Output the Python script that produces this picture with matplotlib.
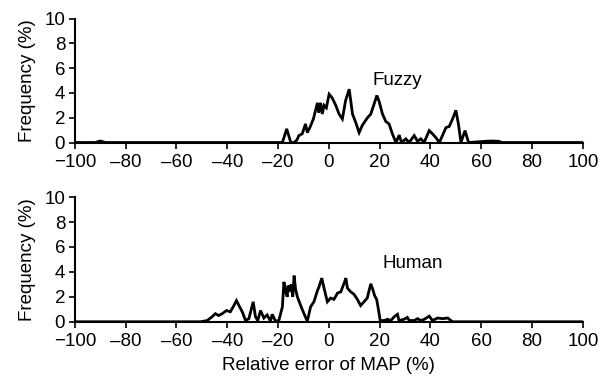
import numpy as np
import matplotlib
matplotlib.use("Agg")
import matplotlib.pyplot as plt

plt.rcParams['font.family'] = ['Liberation Sans', 'DejaVu Sans']

# Relative error (%) vs frequency (%)
fuzzy_x = [-100, -92, -90, -88, -18.3, -16.6, -15, -13.7, -12.6, -11.8, -10.5, -9.2, -8.5, -7.5,
           -6.1, -4.5, -4.0, -3.3, -2.6, -1.9, -1.0, 0.1, 1.3, 2.7, 4.0, 5.3, 6.6, 8.0,
           9.3, 10.6, 11.9, 13.2, 15.2, 16.5, 17.8, 18.9, 19.8, 21.1, 22.4, 23.7, 25.0,
           26.4, 27.7, 28.6, 30.3, 31.6, 33.6, 34.9, 36.2, 37.5, 39.5, 40.8, 42.1, 43.5,
           44.8, 46.1, 47.4, 48.7, 50.0, 51.0, 52.0, 53.6, 55.0, 62, 64, 67, 68, 100]
fuzzy_y = [0, 0, 0.12, 0, 0, 1.1, 0, 0, 0.2, 0.56, 0.7, 1.5, 0.8, 1.2,
           1.9, 3.2, 2.4, 3.2, 2.3, 3.0, 2.8, 3.9, 3.6, 3.0, 2.3, 1.9, 3.4, 4.3,
           2.3, 1.6, 0.8, 1.4, 2.0, 2.3, 3.1, 3.8, 3.3, 2.3, 1.7, 1.5, 0.7,
           0, 0.6, 0, 0.3, 0, 0.56, 0.1, 0.3, 0, 0.96, 0.7, 0.4, 0,
           0.6, 1.2, 1.3, 1.9, 2.6, 1.5, 0, 0.96, 0, 0.1, 0.12, 0.1, 0, 0]

human_x = [-100, -50.6, -47.9, -46.0, -44.7, -43.4, -42.0, -40.3, -38.8, -37.4, -36.4,
           -35.4, -34.1, -32.8, -31.5, -29.8, -28.9, -28.0, -26.9, -25.6, -24.3, -23.0,
           -22.3, -21.0, -19.7, -18.3, -17.7, -17.0, -16.4, -16.1, -15.4, -14.8, -14.2,
           -13.7, -13.1, -12.4, -11.1, -9.8, -8.5, -7.2, -5.9, -4.5, -3.9, -2.8, -1.9,
           -0.6, 0.7, 2.0, 3.4, 4.7, 6.0, 6.7, 7.3, 8.6, 9.9, 11.2, 12.5, 13.8, 15.1,
           16.5, 17.2, 18.0, 18.8, 19.5, 20.2, 21.8, 23.1, 24.4, 25.7, 27.0, 27.6, 29.6,
           30.9, 31.6, 33.6, 34.9, 36.2, 37.6, 39.5, 40.8, 42.8, 44.8, 46.8, 48.7, 100]
human_y = [0, 0, 0.1, 0.4, 0.65, 0.5, 0.65, 0.9, 0.8, 1.3, 1.7,
           1.3, 0.8, 0.1, 0.25, 1.6, 0.4, 0.1, 0.9, 0.3, 0.55, 0.05,
           0.6, 0.05, 0.1, 1.2, 3.2, 2.4, 2.0, 2.9, 2.6, 3.0, 2.0,
           3.7, 2.6, 2.0, 1.3, 0.65, 0.05, 1.2, 1.6, 2.5, 2.8, 3.5, 2.7,
           1.6, 1.9, 1.8, 2.3, 2.4, 3.1, 3.5, 2.7, 2.4, 2.2, 1.8, 1.3, 1.6, 1.9,
           3.05, 2.65, 2.1, 1.8, 1.0, 0.1, 0.1, 0.2, 0.1, 0.4, 0.6, 0.1, 0.2,
           0.35, 0.1, 0.1, 0.25, 0.1, 0.2, 0.45, 0.1, 0.3, 0.25, 0.3, 0, 0]

panels = [(fuzzy_x, fuzzy_y, "Fuzzy", (27, 5.0)),
          (human_x, human_y, "Human", (33, 4.7))]

fig = plt.figure(figsize=(6.04, 3.79), dpi=100)
rects = [[0.124, 0.624, 0.841, 0.327], [0.124, 0.151, 0.841, 0.329]]
FS = 13.5

for i, (x, y, name, pos) in enumerate(panels):
    ax = fig.add_axes(rects[i])
    ax.plot(x, y, color='black', lw=2.0, solid_joinstyle='miter')
    ax.set_xlim(-100, 100)
    ax.set_ylim(0, 10)
    ax.set_xticks(np.arange(-100, 101, 20))
    ax.set_xticklabels(['\u2212100', '\u201380', '\u201360', '\u201340', '\u201320',
                        '0', '20', '40', '60', '80', '100'])
    ax.set_yticks(np.arange(0, 11, 2))
    ax.tick_params(labelsize=FS, length=4, width=1.2)
    ax.tick_params(axis='x', pad=4)
    ax.tick_params(axis='y', pad=3)
    for s in ['top', 'right']:
        ax.spines[s].set_visible(False)
    for s in ['left', 'bottom']:
        ax.spines[s].set_linewidth(1.5)
    ax.set_ylabel('Frequency (%)', fontsize=FS, labelpad=6)
    ax.text(pos[0], pos[1], name, fontsize=FS, ha='center', va='center')
    ax.patch.set_visible(False)
    if i == 1:
        ax.set_xlabel('Relative error of MAP (%)', fontsize=FS, labelpad=5)

fig.savefig('out.png', dpi=100)
